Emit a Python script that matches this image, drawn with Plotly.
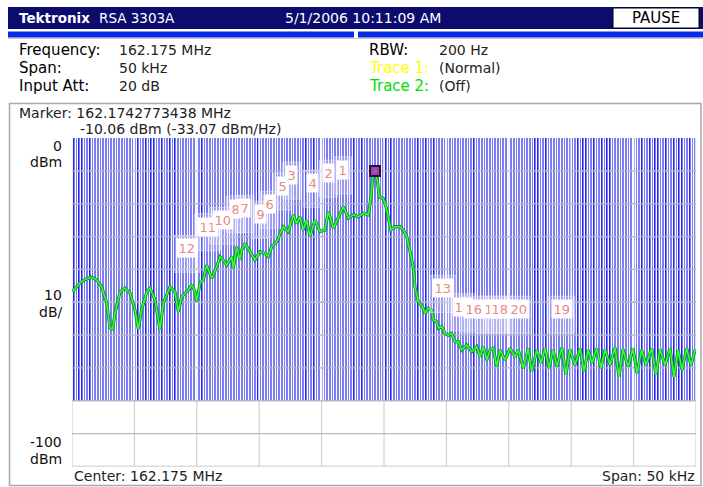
import plotly.graph_objects as go

W, H = 703, 487

# ---------------- data ----------------
span_khz = 50          # x axis: offset from centre, kHz (-25 .. +25)
ref_level_dbm = 0
bottom_level_dbm = -100
blue_floor_dbm = -80

freq_khz = [-24.98, -24.36, -23.88, -23.42, -23.02, -22.62, -22.22, -21.96, -21.74, -21.55,
            -21.15, -20.75, -20.35, -19.95, -19.69, -19.42, -19.01, -18.75, -18.35, -17.95,
            -17.68, -17.15, -16.75, -16.48, -16.21, -15.68, -15.41, -15.14, -15.01, -14.74,
            -14.48, -14.21, -13.81, -13.41, -13.14, -13.00, -12.60, -12.20, -12.08, -11.80,
            -11.54, -11.40, -11.14, -10.74, -10.34, -9.94, -9.54, -9.27, -9.00, -8.60,
            -8.07, -7.67, -7.27, -7.00, -6.73, -6.47, -6.19, -5.93, -5.53, -5.13,
            -4.73, -4.46, -4.06, -3.66, -3.26, -2.86, -2.46, -2.06, -1.66, -1.26,
            -1.07, -0.91, -0.72, -0.54, -0.38, -0.06, 0.16, 0.34, 0.54, 0.88,
            1.28, 1.55, 1.82, 2.08, 2.35, 2.48, 2.75, 3.15, 3.29, 3.55,
            3.82, 3.95, 4.22, 4.35, 4.62, 4.89, 5.15, 5.42, 5.69, 5.95,
            6.23, 6.63, 7.03, 7.43, 7.69, 7.96, 8.23, 8.49, 8.76, 9.03,
            9.29, 9.70, 10.10, 10.50, 10.76, 11.16, 11.56, 11.83, 12.24, 12.58,
            12.90, 13.22, 13.54, 13.86, 14.24, 14.58, 14.90, 15.30, 15.71, 16.03,
            16.35, 16.67, 17.04, 17.39, 17.71, 18.11, 18.51, 18.83, 19.15, 19.55,
            19.95, 20.27, 20.65, 20.99, 21.45, 21.79, 22.12, 22.52, 22.92, 23.24,
            23.56, 23.88, 24.25, 24.60, 24.95]
level_dbm = [-46.8, -44.1, -42.9, -42.4, -43.2, -45.3, -50.2, -57.8, -58.1, -53.3,
             -46.8, -45.7, -47.2, -52.4, -58.1, -52.4, -46.8, -45.7, -49.3, -58.4,
             -50.2, -45.3, -46.8, -52.9, -48.3, -46.3, -44.7, -46.8, -49.8, -44.2,
             -43.2, -38.7, -42.7, -39.2, -36.1, -36.6, -38.7, -36.1, -39.7, -33.1,
             -37.1, -34.1, -32.1, -34.6, -37.1, -34.6, -35.1, -36.1, -33.1, -31.6,
             -27.0, -28.5, -23.4, -26.0, -24.0, -28.0, -25.0, -30.0, -25.0, -28.5,
             -28.0, -22.4, -27.5, -24.2, -20.9, -24.4, -23.4, -24.0, -22.9, -23.4,
             -18.9, -12.3, -10.06, -12.8, -17.9, -18.4, -20.9, -24.0, -28.0, -27.0,
             -27.0, -28.0, -30.0, -34.4, -39.6, -45.3, -49.8, -51.8, -53.4, -51.8,
             -52.4, -55.4, -55.9, -57.9, -57.4, -59.5, -60.0, -59.5, -62.0, -62.0,
             -64.5, -63.0, -65.1, -63.5, -66.6, -63.5, -67.6, -64.5, -64.0, -69.6,
             -64.5, -67.6, -64.0, -66.6, -64.5, -70.1, -64.0, -71.1, -64.5, -68.5,
             -64.0, -70.1, -64.5, -69.6, -63.8, -72.1, -64.3, -69.1, -64.0, -71.1,
             -64.5, -68.6, -64.0, -70.1, -64.3, -69.1, -63.8, -72.7, -64.3, -69.6,
             -64.0, -71.6, -64.5, -69.1, -64.0, -72.1, -64.3, -69.1, -64.0, -72.7,
             -64.5, -70.6, -64.0, -69.1, -64.3]

# main marker (peak)
peak_khz = -0.72
peak_dbm = -10.06

# numbered marker labels (label anchor position, kHz / dBm); later entries are drawn on top
marker_ids = ["12", "11", "10", "8", "7", "9", "6", "5", "3", "4", "2", "1",
              "13", "14", "17", "16", "18", "20", "19"]
marker_khz = [-15.81, -14.13, -12.92, -11.91, -11.14, -9.88, -9.19, -8.12, -7.40, -5.71, -4.46, -3.33,
              4.75, 6.33, 8.73, 7.21, 9.29, 10.78, 14.24]
marker_dbm = [-33.6, -27.0, -25.0, -21.6, -21.4, -23.2, -20.2, -14.6, -11.3, -13.8, -10.7, -9.7,
              -45.8, -51.4, -52.1, -52.1, -52.1, -52.1, -52.1]

x_ticks = [-25, -20, -15, -10, -5, 0, 5, 10, 15, 20, 25]
y_ticks = [0, -10, -20, -30, -40, -50, -60, -70, -80, -90, -100]

header_left_bold = "Tektronix"
header_left = "RSA 3303A"
header_date = "5/1/2006 10:11:09 AM"
header_state = "PAUSE"
info_rows_left = [("Frequency:", "162.175 MHz"), ("Span:", "50 kHz"), ("Input Att:", "20 dB")]
info_rows_right = [("RBW:", "200 Hz", "#000000"), ("Trace 1:", "(Normal)", "#ffff00"),
                   ("Trace 2:", "(Off)", "#00dd00")]
marker_line1 = "Marker: 162.1742773438 MHz"
marker_line2 = "-10.06 dBm (-33.07 dBm/Hz)"
center_text = "Center: 162.175 MHz"
span_text = "Span: 50 kHz"

# ---------------- layout helpers ----------------
FONT = "DejaVu Sans"
def px(x):
    return x / W
def py(y):
    return 1 - y / H

X0, X1 = 72, 696
Y_TOP, Y_BOT = 138, 466.5
KHZ_PER_PX = span_khz / (X1 - X0)
DB_PER_PX = (ref_level_dbm - bottom_level_dbm) / (Y_BOT - Y_TOP)

fig = go.Figure()

# blue striped background (decorative texture of the instrument display)
ncol = X1 - X0
edges = [-span_khz / 2 + i * KHZ_PER_PX for i in range(ncol + 1)]
light_bands = [(95, 130), (175, 200), (205, 250), (258, 300), (318, 350), (362, 382),
               (392, 415), (436, 470), (478, 530), (548, 575), (610, 640)]
pattern = []
for i in range(ncol):
    xp = X0 + i
    m = i % 8
    in_light = any(a <= xp <= b for a, b in light_bands)
    if m in (0, 3, 5):
        pattern.append(0)
    elif m == 1 and not in_light:
        pattern.append(1)
    elif m == 6 and not in_light and (i // 8) % 3 == 0:
        pattern.append(1)
    else:
        pattern.append(2)
fig.add_trace(go.Heatmap(
    x=edges, y=[blue_floor_dbm, ref_level_dbm], z=[pattern], zmin=0, zmax=2,
    colorscale=[[0, "#ffffff"], [0.333, "#ffffff"], [0.333, "#2424f7"], [0.667, "#2424f7"],
                [0.667, "#7c7cf3"], [1, "#7c7cf3"]],
    showscale=False, hoverinfo="skip", zsmooth=False))

# grid lines
gx_blue, gy_blue, gx_white, gy_white = [], [], [], []
for t in x_ticks:
    gx_blue += [t, t, None]
    gy_blue += [ref_level_dbm, blue_floor_dbm, None]
    gx_white += [t, t, None]
    gy_white += [blue_floor_dbm, bottom_level_dbm, None]
hx, hy = [], []
for t in y_ticks[1:]:
    hx += [x_ticks[0], x_ticks[-1], None]
    hy += [t, t, None]
fig.add_trace(go.Scatter(x=gx_blue, y=gy_blue, mode="lines", line=dict(color="#f4f4ff", width=1.6),
                         hoverinfo="skip", showlegend=False))
fig.add_trace(go.Scatter(x=gx_white, y=gy_white, mode="lines", line=dict(color="#c8c8c8", width=1),
                         hoverinfo="skip", showlegend=False))
fig.add_trace(go.Scatter(x=hx, y=hy, mode="lines", line=dict(color="#b9b9c4", width=1.3),
                         hoverinfo="skip", showlegend=False))

# spectrum trace
fig.add_trace(go.Scatter(x=freq_khz, y=level_dbm, mode="lines",
                         line=dict(color="#0b8a3c", width=3.2), hoverinfo="skip", showlegend=False))
fig.add_trace(go.Scatter(x=freq_khz, y=level_dbm, mode="lines",
                         line=dict(color="#33ff33", width=1.6), hoverinfo="skip", showlegend=False))

# peak marker
fig.add_trace(go.Scatter(x=[peak_khz], y=[peak_dbm], mode="markers",
                         marker=dict(symbol="square", size=10, color="#d020d0",
                                     line=dict(color="#2a1030", width=2)),
                         hoverinfo="skip", showlegend=False))
fig.add_trace(go.Scatter(x=[peak_khz], y=[peak_dbm], mode="markers",
                         marker=dict(symbol="square", size=4, color="#2a9a8a"),
                         hoverinfo="skip", showlegend=False))

annotations = []
shapes = []
for mid, mx, my in zip(marker_ids, marker_khz, marker_dbm):
    half_w = (5 + 4 * len(mid)) * KHZ_PER_PX
    # faint light "stem" under each marker label
    shapes.append(dict(type="rect", xref="x", yref="y", x0=mx - half_w, x1=mx + half_w,
                       y0=my - 24 * DB_PER_PX, y1=my + 13 * DB_PER_PX,
                       fillcolor="rgba(240,240,255,0.28)", line=dict(color="rgba(235,235,255,0.55)", width=1),
                       layer="above"))
for mid, mx, my in zip(marker_ids, marker_khz, marker_dbm):
    annotations.append(dict(x=mx, y=my, xref="x", yref="y", text=mid, showarrow=False,
                            font=dict(family=FONT, size=13, color="#e58a86"),
                            bgcolor="#ffffff", borderpad=1.5, xanchor="center", yanchor="middle"))

def txt(x, y, s, size=14, color="#000000", anchor="left"):
    annotations.append(dict(x=px(x), y=py(y), xref="paper", yref="paper", text=s,
                            showarrow=False, font=dict(family=FONT, size=size, color=color),
                            xanchor=anchor, yanchor="middle"))

# header
txt(17, 18, "<b>" + header_left_bold + "</b>", 13.5, "#ffffff")
txt(97, 18, header_left, 13.5, "#ffffff")
txt(283, 18, header_date, 14, "#ffffff")
txt(656, 18, header_state, 15, "#000000", "center")

for i, (lab, val) in enumerate(info_rows_left):
    y = 50 + 18 * i
    txt(17, y, lab, 15, "#000000")
    txt(117, y, val, 14, "#222222")
for i, (lab, val, col) in enumerate(info_rows_right):
    y = 50 + 18 * i
    txt(367, y, lab, 15, col)
    txt(437, y, val, 14, "#222222")

txt(17, 113, marker_line1, 14, "#222222")
txt(78, 129, marker_line2, 14, "#222222")

txt(64, 146, "0", 14, "#111111", "right")
txt(64, 162, "dBm", 14, "#111111", "right")
txt(64, 295, "10", 14, "#111111", "right")
txt(64, 312, "dB/", 14, "#111111", "right")
txt(64, 442, "-100", 14, "#111111", "right")
txt(64, 459, "dBm", 14, "#111111", "right")

txt(72, 476, center_text, 14, "#222222")
txt(697, 476, span_text, 14, "#222222", "right")

shapes += [
    dict(type="rect", xref="paper", yref="paper", x0=px(8), x1=px(703), y0=py(29), y1=py(7),
         fillcolor="#0c0c6e", line=dict(width=0), layer="below"),
    dict(type="rect", xref="paper", yref="paper", x0=px(613), x1=px(699), y0=py(28), y1=py(8),
         fillcolor="#ffffff", line=dict(color="#000000", width=1), layer="below"),
    dict(type="rect", xref="paper", yref="paper", x0=px(8), x1=px(354), y0=py(37.5), y1=py(31.5),
         fillcolor="#0a2be6", line=dict(width=0), layer="below"),
    dict(type="rect", xref="paper", yref="paper", x0=px(358), x1=px(703), y0=py(37.5), y1=py(31.5),
         fillcolor="#0a2be6", line=dict(width=0), layer="below"),
    dict(type="line", xref="paper", yref="paper", x0=px(8), x1=px(703), y0=py(38.5), y1=py(38.5),
         line=dict(color="#c8c8c8", width=1), layer="below"),
    dict(type="rect", xref="paper", yref="paper", x0=px(9.5), x1=px(701), y0=py(485.5), y1=py(103.5),
         fillcolor="rgba(0,0,0,0)", line=dict(color="#a8a8a8", width=1.5), layer="below"),
]

fig.update_layout(
    width=W, height=H, margin=dict(l=0, r=0, t=0, b=0),
    paper_bgcolor="#ffffff", plot_bgcolor="#ffffff", showlegend=False,
    xaxis=dict(domain=[px(X0), px(X1)], range=[-span_khz / 2, span_khz / 2], showgrid=False,
               zeroline=False, showticklabels=False, ticks="", showline=False, fixedrange=True),
    yaxis=dict(domain=[py(Y_BOT), py(Y_TOP)], range=[bottom_level_dbm, ref_level_dbm], showgrid=False,
               zeroline=False, showticklabels=False, ticks="", showline=False, fixedrange=True),
    annotations=annotations, shapes=shapes,
)

fig.write_html("out.html", config={"displayModeBar": False})

# remove the browser's default page margin so the 703x487 figure fills the window exactly
with open("out.html", "r", encoding="utf-8") as f:
    html = f.read()
html = html.replace("<head>", "<head><style>html,body{margin:0;padding:0;overflow:hidden;}</style>", 1)
with open("out.html", "w", encoding="utf-8") as f:
    f.write(html)
